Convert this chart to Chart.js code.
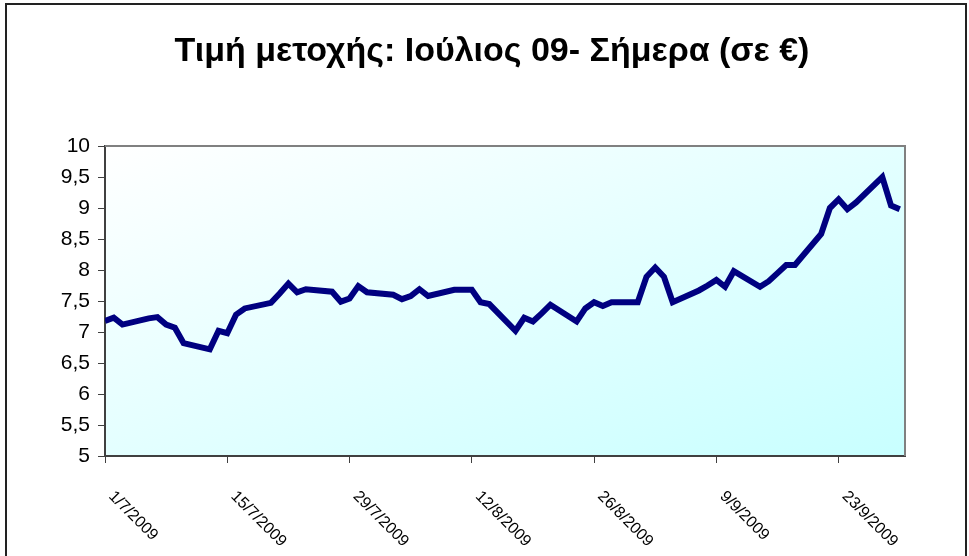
<!DOCTYPE html>
<html>
<head>
<meta charset="utf-8">
<script src="https://cdn.jsdelivr.net/npm/chart.js@4"></script>
<style>
  html, body { margin: 0; padding: 0; background: #fff; }
  canvas { display: block; }
</style>
</head>
<body>
<canvas id="chart" width="969" height="556"></canvas>
<script>
// ---- data ----
const titleText = "Τιμή μετοχής: Ιούλιος 09- Σήμερα (σε €)";

const dates = [
  "1/7/2009","2/7/2009","3/7/2009","6/7/2009","7/7/2009","8/7/2009","9/7/2009","10/7/2009",
  "13/7/2009","14/7/2009","15/7/2009","16/7/2009","17/7/2009","20/7/2009","21/7/2009","22/7/2009",
  "23/7/2009","24/7/2009","27/7/2009","28/7/2009","29/7/2009","30/7/2009","31/7/2009",
  "3/8/2009","4/8/2009","5/8/2009","6/8/2009","7/8/2009","10/8/2009","11/8/2009","12/8/2009",
  "13/8/2009","14/8/2009","17/8/2009","18/8/2009","19/8/2009","20/8/2009","21/8/2009",
  "24/8/2009","25/8/2009","26/8/2009","27/8/2009","28/8/2009","31/8/2009",
  "1/9/2009","2/9/2009","3/9/2009","4/9/2009","7/9/2009","8/9/2009","9/9/2009","10/9/2009",
  "11/9/2009","14/9/2009","15/9/2009","16/9/2009","17/9/2009","18/9/2009","21/9/2009",
  "22/9/2009","23/9/2009","24/9/2009","25/9/2009","28/9/2009","29/9/2009","30/9/2009"
];

const prices = [
  7.18, 7.23, 7.12, 7.22, 7.24, 7.12, 7.07, 6.82,
  6.72, 7.02, 6.98, 7.28, 7.38, 7.47, 7.62, 7.78,
  7.64, 7.69, 7.65, 7.49, 7.54, 7.74, 7.64,
  7.60, 7.53, 7.58, 7.69, 7.58, 7.68, 7.68, 7.68,
  7.48, 7.45, 7.02, 7.23, 7.17, 7.30, 7.44,
  7.17, 7.38, 7.48, 7.42, 7.48, 7.48,
  7.89, 8.04, 7.89, 7.48, 7.67, 7.75, 7.84, 7.73,
  7.98, 7.73, 7.82, 7.95, 8.08, 8.08, 8.58,
  9.00, 9.14, 8.98, 9.09, 9.50, 9.04, 8.98
];

const tickLabels = ["1/7/2009","15/7/2009","29/7/2009","12/8/2009","26/8/2009","9/9/2009","23/9/2009"];

const yMin = 5, yMax = 10, yStep = 0.5;

// ---- helpers ----
const FONT = '"Liberation Sans", Arial, sans-serif';
const DAY0 = Date.UTC(2009, 6, 1);
const dayOf = (s) => {
  const [d, m, y] = s.split("/").map(Number);
  return Math.round((Date.UTC(y, m - 1, d) - DAY0) / 86400000);
};
const labelOf = (v) => {
  const d = new Date(DAY0 + v * 86400000);
  return d.getUTCDate() + "/" + (d.getUTCMonth() + 1) + "/" + d.getUTCFullYear();
};

const points = dates.map((s, i) => ({ x: dayOf(s), y: prices[i] }));

// background, frame and title
const decor = {
  id: "decor",
  beforeDraw(chart) {
    const { ctx, chartArea: a } = chart;
    ctx.save();
    ctx.fillStyle = "#fff";
    ctx.fillRect(0, 0, chart.width, chart.height);

    // diagonal gradient inside the plot area
    ctx.save();
    ctx.translate(a.left, a.top);
    ctx.scale(a.right - a.left, a.bottom - a.top);
    const g = ctx.createLinearGradient(0, 0, 1, 1);
    g.addColorStop(0, "#ffffff");
    g.addColorStop(1, "#c8ffff");
    ctx.fillStyle = g;
    ctx.fillRect(0, 0, 1, 1);
    ctx.restore();

    // outer frame
    ctx.strokeStyle = "#222";
    ctx.lineWidth = 2;
    ctx.beginPath();
    ctx.moveTo(6, chart.height);
    ctx.lineTo(6, 4);
    ctx.lineTo(966, 4);
    ctx.lineTo(966, chart.height);
    ctx.stroke();

    // title
    ctx.fillStyle = "#000";
    ctx.font = "bold 34px " + FONT;
    ctx.textAlign = "center";
    ctx.textBaseline = "alphabetic";
    ctx.fillText(titleText, 492, 61);
    ctx.restore();
  },
  afterDraw(chart) {
    const { ctx, chartArea: a } = chart;
    ctx.save();
    // grey top / right border of the plot
    ctx.strokeStyle = "#808080";
    ctx.lineWidth = 2;
    ctx.beginPath();
    ctx.moveTo(a.left, a.top);
    ctx.lineTo(a.right, a.top);
    ctx.lineTo(a.right, a.bottom);
    ctx.stroke();

    // rotated date labels (reading downwards to the right)
    const xs = chart.scales.x;
    ctx.fillStyle = "#000";
    ctx.font = "16px " + FONT;
    ctx.textAlign = "left";
    ctx.textBaseline = "alphabetic";
    xs.ticks.forEach(t => {
      const px = xs.getPixelForValue(t.value);
      ctx.save();
      ctx.translate(px + 3, a.bottom + 41);
      ctx.rotate(Math.PI / 4);
      ctx.fillText(labelOf(t.value), 0, 0);
      ctx.restore();
    });
    ctx.restore();
  }
};

new Chart(document.getElementById("chart"), {
  type: "line",
  data: {
    datasets: [{
      data: points,
      borderColor: "#000080",
      borderWidth: 6,
      pointRadius: 0,
      tension: 0,
      fill: false
    }]
  },
  options: {
    responsive: false,
    animation: false,
    layout: { padding: { top: 146, right: 64, left: 0, bottom: 0 } },
    plugins: { legend: { display: false }, title: { display: false }, tooltip: { enabled: false } },
    scales: {
      x: {
        type: "linear",
        min: 0,
        max: 91.6,
        afterBuildTicks: (s) => { s.ticks = tickLabels.map(l => ({ value: dayOf(l) })); },
        afterFit: (s) => { s.height = 100; },
        ticks: { color: "transparent", autoSkip: false, maxRotation: 0, font: { size: 16, family: FONT } },
        grid: { display: true, drawOnChartArea: false, drawTicks: true, tickLength: 7, color: "#404040", lineWidth: 1 },
        border: { display: true, color: "#404040", width: 2 }
      },
      y: {
        min: yMin,
        max: yMax,
        afterFit: (s) => { s.width = 105; },
        ticks: {
          stepSize: yStep,
          padding: 8,
          color: "#000",
          font: { size: 21, family: FONT },
          callback: (v) => String(v).replace(".", ",")
        },
        grid: { display: true, drawOnChartArea: false, drawTicks: true, tickLength: 7, color: "#404040", lineWidth: 1 },
        border: { display: true, color: "#404040", width: 2 }
      }
    }
  },
  plugins: [decor]
});
</script>
</body>
</html>
